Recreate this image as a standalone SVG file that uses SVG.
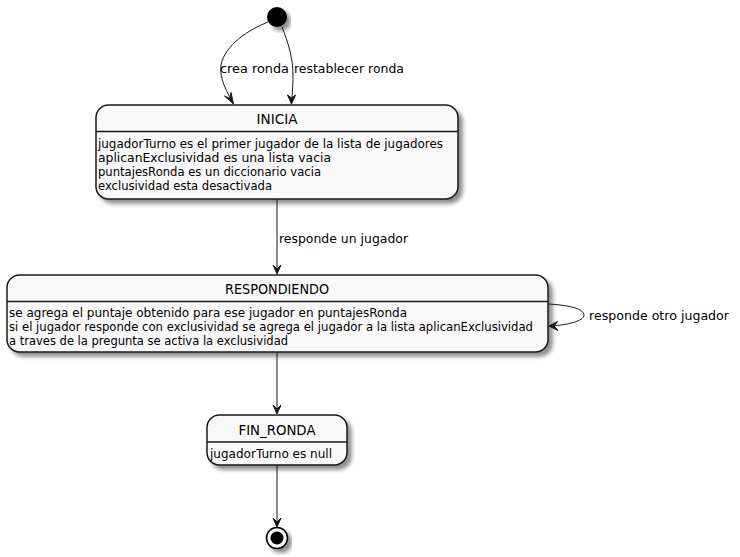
<svg xmlns="http://www.w3.org/2000/svg" width="740" height="557" viewBox="0 0 740 557">
<style>
.box{fill:#F8F8F8;stroke:#181818;stroke-width:1.5}
.sep{stroke:#181818;stroke-width:1.5}
.title{font-family:"DejaVu Sans",sans-serif;font-size:14px;fill:#000;text-anchor:middle}
.body{font-family:"DejaVu Sans",sans-serif;font-size:11.5px;fill:#000}
.lbl{font-family:"DejaVu Sans",sans-serif;font-size:12px;fill:#000}
.edge{fill:none;stroke:#181818;stroke-width:1}
.head{fill:#181818;stroke:#181818;stroke-width:1}
</style>
<defs>
<filter id="sh" x="-10%" y="-10%" width="130%" height="140%">
<feGaussianBlur in="SourceAlpha" stdDeviation="2"/>
<feOffset dx="4" dy="4" result="b"/>
<feComponentTransfer><feFuncA type="linear" slope="0.45"/></feComponentTransfer>
<feMerge><feMergeNode/><feMergeNode in="SourceGraphic"/></feMerge>
</filter>
</defs>
<rect width="740" height="557" fill="#FFFFFF"/>

<g id="start">
<circle cx="277" cy="17" r="10" fill="#000" filter="url(#sh)"/>
</g>

<g id="INICIA">
<rect class="box" x="96" y="105" width="362" height="94" rx="12.5" ry="12.5" filter="url(#sh)"/>
<line class="sep" x1="96" y1="131.5" x2="458" y2="131.5"/>
<text class="title" x="277" y="124" textLength="41" lengthAdjust="spacingAndGlyphs">INICIA</text>
<text class="body" x="98" y="147.5" textLength="345" lengthAdjust="spacingAndGlyphs">jugadorTurno es el primer jugador de la lista de jugadores</text>
<text class="body" x="98" y="161.5" textLength="233" lengthAdjust="spacingAndGlyphs">aplicanExclusividad es una lista vacia</text>
<text class="body" x="98" y="175.5" textLength="223" lengthAdjust="spacingAndGlyphs">puntajesRonda es un diccionario vacia</text>
<text class="body" x="98" y="189.5" textLength="174" lengthAdjust="spacingAndGlyphs">exclusividad esta desactivada</text>
</g>

<g id="RESPONDIENDO">
<rect class="box" x="7" y="275" width="541" height="77" rx="12.5" ry="12.5" filter="url(#sh)"/>
<line class="sep" x1="7" y1="301.5" x2="548" y2="301.5"/>
<text class="title" x="277" y="294" textLength="104" lengthAdjust="spacingAndGlyphs">RESPONDIENDO</text>
<text class="body" x="9" y="316.5" textLength="398" lengthAdjust="spacingAndGlyphs">se agrega el puntaje obtenido para ese jugador en puntajesRonda</text>
<text class="body" x="9" y="330.5" textLength="524" lengthAdjust="spacingAndGlyphs">si el jugador responde con exclusividad se agrega el jugador a la lista aplicanExclusividad</text>
<text class="body" x="9" y="344.5" textLength="279" lengthAdjust="spacingAndGlyphs">a traves de la pregunta se activa la exclusividad</text>
</g>

<g id="FIN_RONDA">
<rect class="box" x="207" y="415" width="140" height="50" rx="12.5" ry="12.5" filter="url(#sh)"/>
<line class="sep" x1="207" y1="442" x2="347" y2="442"/>
<text class="title" x="277" y="435" textLength="77" lengthAdjust="spacingAndGlyphs">FIN_RONDA</text>
<text class="body" x="210" y="457.5" textLength="122" lengthAdjust="spacingAndGlyphs">jugadorTurno es null</text>
</g>

<g id="end">
<circle cx="277" cy="538" r="10.5" fill="#F8F8F8" stroke="#000" stroke-width="1.5" filter="url(#sh)"/>
<circle cx="277" cy="538" r="6.5" fill="#000"/>
</g>

<g id="connectors">
<path class="edge" d="M268,22 C248,30 225,45 221,65 C219,80 228,93 233,103"/>
<polygon class="head" points="233.5,104 224.5,96 230,98.5 231,92.5"/>
<text class="lbl" x="220" y="72.5" textLength="69" lengthAdjust="spacingAndGlyphs">crea ronda</text>

<path class="edge" d="M282,27 C288,42 293,58 293,75 C293,88 292,96 291.5,103"/>
<polygon class="head" points="291.5,104 287.5,95 291.5,98 295.5,95"/>
<text class="lbl" x="294" y="72.5" textLength="110" lengthAdjust="spacingAndGlyphs">restablecer ronda</text>

<path class="edge" d="M277,199 L277,273"/>
<polygon class="head" points="277,274 273,265 277,269 281,265"/>
<text class="lbl" x="279" y="242.5" textLength="129" lengthAdjust="spacingAndGlyphs">responde un jugador</text>

<path class="edge" d="M548,304 C566,305 584,308 584,315 C584,321 568,325 550,326"/>
<polygon class="head" points="549,326 557.5,321.5 554,326 558,330.5"/>
<text class="lbl" x="589" y="319.5" textLength="140" lengthAdjust="spacingAndGlyphs">responde otro jugador</text>

<path class="edge" d="M277,352 L277,413"/>
<polygon class="head" points="277,414 273,405 277,409 281,405"/>

<path class="edge" d="M277,465 L277,526"/>
<polygon class="head" points="277,527 273,518 277,522 281,518"/>
</g>
</svg>
